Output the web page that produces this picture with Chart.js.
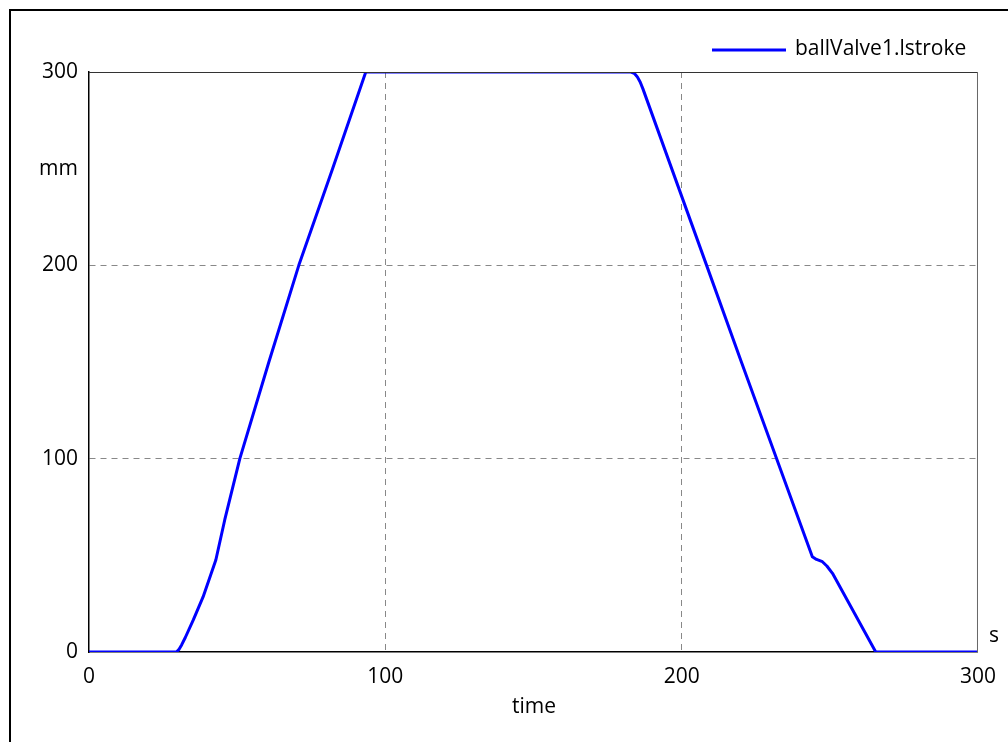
<!DOCTYPE html>
<html>
<head>
<meta charset="utf-8">
<script src="https://cdn.jsdelivr.net/npm/chart.js@4"></script>
<style>
html,body{margin:0;padding:0;background:#fff;}
#wrap{position:relative;width:1008px;height:742px;}
</style>
</head>
<body>
<div id="wrap"><canvas id="c" width="1008" height="742"></canvas></div>
<script>
const seriesLabel = "ballValve1.lstroke";
const time = [0, 29.5, 30.3, 31.3, 32.5, 35.2, 38.5, 42.8, 45.8, 50.9, 60.7, 70.8, 82.2, 93.4,
  182.9, 184, 185, 186, 186.9, 208.3, 220, 244.1, 245.5, 247.5, 249, 250.9, 265.5, 300];
const stroke = [0, 0, 1.2, 3.8, 7.5, 16.6, 28.5, 47.6, 68.3, 100, 150, 200, 250, 300,
  300, 299.3, 297.6, 294.8, 291.4, 200.5, 150.7, 49.3, 47.9, 46.7, 44.5, 40.7, 0, 0];
const xTicks = [0, 100, 200, 300];
const yTicks = [0, 100, 200, 300];
const yUnit = "mm";
const xUnit = "s";
const xTitle = "time";

const FONT = "'Open Sans', 'Noto Sans', sans-serif";
const FSIZE = 21;

const decor = {
  id: 'decor',
  afterDraw(chart) {
    const ctx = chart.ctx;
    const a = chart.chartArea;
    ctx.save();
    ctx.lineWidth = 1;
    ctx.strokeStyle = '#333';
    ctx.beginPath();
    ctx.moveTo(a.left, a.top + 0.5);
    ctx.lineTo(a.right, a.top + 0.5);
    ctx.stroke();
    ctx.strokeStyle = '#666';
    ctx.beginPath();
    ctx.moveTo(a.right - 0.5, a.top);
    ctx.lineTo(a.right - 0.5, a.bottom);
    ctx.stroke();
    ctx.strokeStyle = '#000';
    ctx.lineWidth = 2;
    ctx.beginPath();
    ctx.moveTo(10, 742);
    ctx.lineTo(10, 10);
    ctx.lineTo(1008, 10);
    ctx.stroke();
    ctx.fillStyle = '#000';
    ctx.font = FSIZE + 'px ' + FONT;
    ctx.textBaseline = 'middle';
    ctx.textAlign = 'right';
    ctx.fillText(yUnit, 78, 169);
    ctx.textAlign = 'left';
    ctx.fillText(xUnit, 989, 636);
    ctx.textAlign = 'center';
    ctx.fillText(xTitle, 534, 707);
    const ds = chart.data.datasets[0];
    ctx.strokeStyle = ds.borderColor;
    ctx.lineWidth = 3;
    ctx.beginPath();
    ctx.moveTo(712, 50);
    ctx.lineTo(786, 50);
    ctx.stroke();
    ctx.textAlign = 'left';
    ctx.fillStyle = '#000';
    ctx.fillText(ds.label, 795, 49);
    ctx.restore();
  }
};

const gridColor = (ctx) => {
  const v = ctx.tick && ctx.tick.value;
  return (v === 0 || v === 300) ? 'rgba(0,0,0,0)' : '#888';
};

new Chart(document.getElementById('c'), {
  type: 'line',
  data: {
    datasets: [{
      label: seriesLabel,
      data: time.map((t, i) => ({x: t, y: stroke[i]})),
      borderColor: '#0000ff',
      backgroundColor: '#0000ff',
      borderWidth: 3,
      pointRadius: 0,
      tension: 0,
      borderJoinStyle: 'round',
      fill: false
    }]
  },
  options: {
    responsive: false,
    animation: false,
    devicePixelRatio: 1,
    layout: { padding: { top: 72, right: 29, left: 0, bottom: 0 } },
    plugins: { legend: { display: false }, tooltip: { enabled: false } },
    scales: {
      x: {
        type: 'linear', min: 0, max: 300,
        afterBuildTicks: s => { s.ticks = xTicks.map(v => ({value: v})); },
        afterFit: s => { s.height = 90; },
        ticks: { color: '#000', font: { size: FSIZE, family: FONT }, padding: 12, maxRotation: 0 },
        grid: { color: gridColor, drawTicks: false, lineWidth: 1 },
        border: { display: true, color: '#000', width: 1.5, dash: [6, 5] }
      },
      y: {
        type: 'linear', min: 0, max: 300,
        afterBuildTicks: s => { s.ticks = yTicks.map(v => ({value: v})); },
        afterFit: s => { s.width = 89; },
        ticks: { color: '#000', font: { size: FSIZE, family: FONT }, padding: 11 },
        grid: { color: gridColor, drawTicks: false, lineWidth: 1 },
        border: { display: true, color: '#000', width: 1.5, dash: [6, 5] }
      }
    }
  },
  plugins: [decor]
});
</script>
</body>
</html>
